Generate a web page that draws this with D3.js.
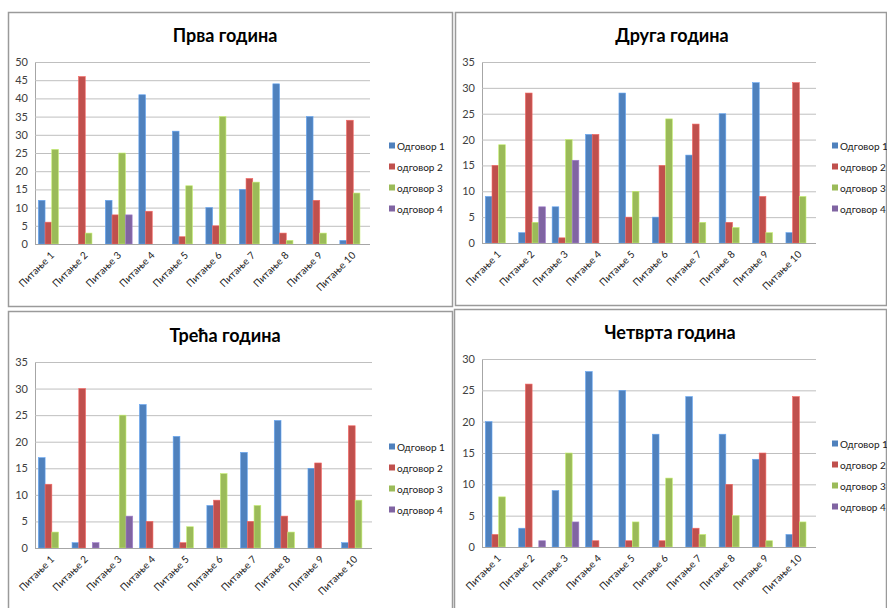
<!DOCTYPE html>
<html>
<head>
<meta charset="utf-8">
<script src="https://cdn.jsdelivr.net/npm/d3@7/dist/d3.min.js"></script>
<style>
  html, body { margin: 0; padding: 0; background: #fff; }
  svg { display: block; font-family: Lato, "Open Sans", "Noto Sans", sans-serif; }
</style>
</head>
<body>
<svg id="chart" width="887" height="608"></svg>
<script>
// Questions along the x axis and the four answer series
const questions = ["Питање 1", "Питање 2", "Питање 3", "Питање 4", "Питање 5",
                   "Питање 6", "Питање 7", "Питање 8", "Питање 9", "Питање 10"];
const answers = ["Одговор 1", "одговор 2", "одговор 3", "одговор 4"];
const answerColors = ["#4F81BD", "#C0504D", "#9BBB59", "#8064A2"];

const titles = ["Прва година", "Друга година", "Трећа година", "Четврта година"];

// Counts per answer (rows) and question (columns), one array per year
const year1 = [
  [12, 0, 12, 41, 31, 10, 15, 44, 35, 1],
  [6, 46, 8, 9, 2, 5, 18, 3, 12, 34],
  [26, 3, 25, 0, 16, 35, 17, 1, 3, 14],
  [0, 0, 8, 0, 0, 0, 0, 0, 0, 0]
];
const year2 = [
  [9, 2, 7, 21, 29, 5, 17, 25, 31, 2],
  [15, 29, 1, 21, 5, 15, 23, 4, 9, 31],
  [19, 4, 20, 0, 10, 24, 4, 3, 2, 9],
  [0, 7, 16, 0, 0, 0, 0, 0, 0, 0]
];
const year3 = [
  [17, 1, 0, 27, 21, 8, 18, 24, 15, 1],
  [12, 30, 0, 5, 1, 9, 5, 6, 16, 23],
  [3, 0, 25, 0, 4, 14, 8, 3, 0, 9],
  [0, 1, 6, 0, 0, 0, 0, 0, 0, 0]
];
const year4 = [
  [20, 3, 9, 28, 25, 18, 24, 18, 14, 2],
  [2, 26, 0, 1, 1, 1, 3, 10, 15, 24],
  [8, 0, 15, 0, 4, 11, 2, 5, 1, 4],
  [0, 1, 4, 0, 0, 0, 0, 0, 0, 0]
];

// Y axis maxima per year
const yMax = [50, 35, 35, 30];

const svg = d3.select("#chart");

// Panel frames and plot rectangles
const panels = [
  { frame: [8, 12, 444, 294], plot: [35, 62, 370, 244], title: [225, 42], legend: [389, 146], data: year1 },
  { frame: [455, 12, 431, 293], plot: [482, 62, 816, 243], title: [672, 42], legend: [832, 146], data: year2 },
  { frame: [8, 311, 444, 310], plot: [35, 362, 372, 548], title: [225, 342], legend: [389, 447], data: year3 },
  { frame: [454, 309, 432, 310], plot: [482, 359, 816, 547], title: [670, 339], legend: [832, 444], data: year4 }
];

panels.forEach((p, pi) => {
  const g = svg.append("g");
  const [fx, fy, fw, fh] = p.frame;
  g.append("rect")
    .attr("x", fx + 0.5).attr("y", fy + 0.5)
    .attr("width", fw).attr("height", fh)
    .attr("fill", "#fff").attr("stroke", "#9a9a9a").attr("stroke-width", 1.5);

  const [x0, y0, x1, y1] = p.plot;

  const x = d3.scaleBand().domain(questions).range([x0, x1]).paddingInner(0.2).paddingOuter(0.1);
  const xs = d3.scaleBand().domain(d3.range(answers.length)).range([0, x.bandwidth()]);
  const y = d3.scaleLinear().domain([0, yMax[pi]]).range([y1, y0]);

  // Horizontal gridlines with value labels
  const yAxis = d3.axisLeft(y).ticks(yMax[pi] / 5).tickSize(-(x1 - x0)).tickPadding(7);
  const ya = g.append("g").attr("transform", `translate(${x0},0)`).call(yAxis);
  ya.select(".domain").attr("stroke", "#a6a6a6");
  ya.selectAll(".tick line").attr("stroke", "#bfbfbf");
  ya.selectAll(".tick text").attr("fill", "#404040").attr("font-size", 11)
    .attr("font-family", "Lato, 'Open Sans', sans-serif");

  // Bars
  answers.forEach((a, si) => {
    g.append("g").selectAll("rect")
      .data(p.data[si].map((v, qi) => ({ q: questions[qi], v })))
      .join("rect")
      .attr("x", d => x(d.q) + xs(si))
      .attr("y", d => y(d.v))
      .attr("width", xs.bandwidth())
      .attr("height", d => y(0) - y(d.v))
      .attr("fill", answerColors[si])
      .attr("stroke", d3.color(answerColors[si]).brighter(0.7))
      .attr("stroke-width", 0.6);
  });

  // Category axis with slanted labels
  g.append("line")
    .attr("x1", x0).attr("x2", x1).attr("y1", y1 + 0.5).attr("y2", y1 + 0.5)
    .attr("stroke", "#a6a6a6");
  g.append("g").selectAll("text")
    .data(questions)
    .join("text")
    .attr("transform", d => `translate(${x(d) + x.bandwidth() / 2 + 3},${y1 + 12}) rotate(-45)`)
    .attr("text-anchor", "end")
    .attr("font-size", 10)
    .attr("fill", "#202020")
    .text(d => d);

  // Title
  g.append("text")
    .attr("x", p.title[0]).attr("y", p.title[1])
    .attr("text-anchor", "middle")
    .attr("font-size", 18).attr("font-weight", "bold")
    .attr("fill", "#000")
    .text(titles[pi]);

  // Legend
  const lg = g.append("g").attr("transform", `translate(${p.legend[0]},${p.legend[1]})`);
  answers.forEach((a, si) => {
    lg.append("rect")
      .attr("x", 0).attr("y", si * 21 - 3.5)
      .attr("width", 6).attr("height", 6)
      .attr("fill", answerColors[si]);
    lg.append("text")
      .attr("x", 8).attr("y", si * 21 + 3.5)
      .attr("font-size", 10).attr("fill", "#202020")
      .text(a);
  });
});
</script>
</body>
</html>
